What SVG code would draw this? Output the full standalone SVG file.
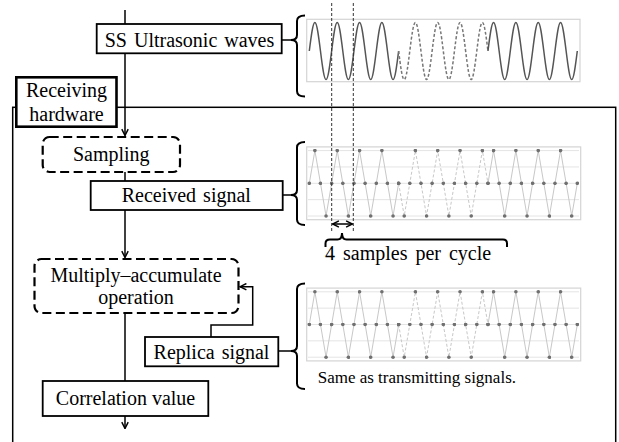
<svg xmlns="http://www.w3.org/2000/svg" xmlns:xlink="http://www.w3.org/1999/xlink" width="619" height="442" viewBox="0 0 619 442">
<style>
text{font-family:"Liberation Serif",serif;font-size:20px;fill:#000}
.box{fill:#fff;stroke:#000;stroke-width:1.8}
.dbox{fill:#fff;stroke:#000;stroke-width:2.2;stroke-dasharray:9 4.5}
.ln{fill:none;stroke:#000;stroke-width:1.5}
.br{fill:none;stroke:#000;stroke-width:2}
.vd{fill:none;stroke:#333;stroke-width:1;stroke-dasharray:3 2}
.pbox{fill:#fff;stroke:#d4d4d4;stroke-width:1.2}
.grid{stroke:#e4e4e4;stroke-width:1}
.samp{fill:none;stroke:#c8c8c8;stroke-width:1;marker-start:url(#dot);marker-mid:url(#dot);marker-end:url(#dot)}
.sampd{stroke-dasharray:3 2}
.wave{fill:none;stroke:#555;stroke-width:1.5}
.waved{fill:none;stroke:#777;stroke-width:1.5;stroke-dasharray:3 2}
</style>
<defs>
<marker id="arr" viewBox="0 0 10 10" refX="9" refY="5" markerWidth="8" markerHeight="8" orient="auto-start-reverse" markerUnits="userSpaceOnUse">
<path d="M1,1 L9,5 L1,9" fill="none" stroke="#000" stroke-width="1.8"/>
</marker>
<marker id="dot" viewBox="-2 -2 4 4" refX="0" refY="0" markerWidth="4" markerHeight="4" markerUnits="userSpaceOnUse">
<circle cx="0" cy="0" r="1.8" fill="#707070"/>
</marker>
<g id="sampled">
<rect class="pbox" x="306.7" y="-36.4" width="274" height="72.8"/>
<path class="grid" d="M308,-32.7H579M308,-16.35H579M308,0H579M308,16.35H579M308,32.7H579"/>
<polyline class="samp" points="309.3,0 314.88,-32.7 320.47,0 326.05,32.7 331.63,0 337.22,-32.7 342.8,0 348.38,32.7 353.97,0 359.55,-32.7 365.13,0 370.72,32.7 376.3,0 381.88,-32.7 387.47,0 393.05,32.7 398.63,0"/>
<polyline class="samp sampd" points="398.63,0 404.22,32.7 409.8,0 415.38,-32.7 420.97,0 426.55,32.7 432.13,0 437.72,-32.7 443.3,0 448.88,32.7 454.47,0 460.05,-32.7 465.63,0 471.22,32.7 476.8,0 482.38,-32.7 487.97,0"/>
<polyline class="samp" points="487.97,0 493.55,-32.7 499.13,0 504.72,32.7 510.3,0 515.88,-32.7 521.47,0 527.05,32.7 532.63,0 538.22,-32.7 543.8,0 549.38,32.7 554.97,0 560.55,-32.7 566.13,0 571.72,32.7 577.3,0"/>
</g>
</defs>

<rect x="0" y="0" width="619" height="442" fill="#fff"/>

<rect id="frame" x="12.7" y="107.3" width="603" height="345" fill="none" stroke="#000" stroke-width="1.5"/>

<g id="plot-transmitted">
<rect class="pbox" x="306.7" y="19.3" width="273.3" height="62.4"/>
<path class="wave" d="M309.3,51 c1.866,-14.97 3.584,-28.5 5.583,-28.5 c1.999,0 3.717,13.53 5.583,28.5 c1.866,14.97 3.584,28.5 5.583,28.5 c1.999,0 3.717,-13.53 5.583,-28.5 c1.866,-14.97 3.584,-28.5 5.583,-28.5 c1.999,0 3.717,13.53 5.583,28.5 c1.866,14.97 3.584,28.5 5.583,28.5 c1.999,0 3.717,-13.53 5.583,-28.5 c1.866,-14.97 3.584,-28.5 5.583,-28.5 c1.999,0 3.717,13.53 5.583,28.5 c1.866,14.97 3.584,28.5 5.583,28.5 c1.999,0 3.717,-13.53 5.583,-28.5 c1.866,-14.97 3.584,-28.5 5.583,-28.5 c1.999,0 3.717,13.53 5.583,28.5 c1.866,14.97 3.584,28.5 5.583,28.5 c1.999,0 3.717,-13.53 5.583,-28.5"/>
<path class="waved" d="M398.63,51 c1.866,14.97 3.584,28.5 5.583,28.5 c1.999,0 3.717,-13.53 5.583,-28.5 c1.866,-14.97 3.584,-28.5 5.583,-28.5 c1.999,0 3.717,13.53 5.583,28.5 c1.866,14.97 3.584,28.5 5.583,28.5 c1.999,0 3.717,-13.53 5.583,-28.5 c1.866,-14.97 3.584,-28.5 5.583,-28.5 c1.999,0 3.717,13.53 5.583,28.5 c1.866,14.97 3.584,28.5 5.583,28.5 c1.999,0 3.717,-13.53 5.583,-28.5 c1.866,-14.97 3.584,-28.5 5.583,-28.5 c1.999,0 3.717,13.53 5.583,28.5 c1.866,14.97 3.584,28.5 5.583,28.5 c1.999,0 3.717,-13.53 5.583,-28.5 c1.866,-14.97 3.584,-28.5 5.583,-28.5 c1.999,0 3.717,13.53 5.583,28.5"/>
<path class="wave" d="M487.97,51 c1.866,-14.97 3.584,-28.5 5.583,-28.5 c1.999,0 3.717,13.53 5.583,28.5 c1.866,14.97 3.584,28.5 5.583,28.5 c1.999,0 3.717,-13.53 5.583,-28.5 c1.866,-14.97 3.584,-28.5 5.583,-28.5 c1.999,0 3.717,13.53 5.583,28.5 c1.866,14.97 3.584,28.5 5.583,28.5 c1.999,0 3.717,-13.53 5.583,-28.5 c1.866,-14.97 3.584,-28.5 5.583,-28.5 c1.999,0 3.717,13.53 5.583,28.5 c1.866,14.97 3.584,28.5 5.583,28.5 c1.999,0 3.717,-13.53 5.583,-28.5 c1.866,-14.97 3.584,-28.5 5.583,-28.5 c1.999,0 3.717,13.53 5.583,28.5 c1.866,14.97 3.584,28.5 5.583,28.5 c1.999,0 3.717,-13.53 5.583,-28.5"/>
</g>
<g id="plot-received"><use xlink:href="#sampled" href="#sampled" transform="translate(0,183.3)"/></g>
<g id="plot-replica"><use xlink:href="#sampled" href="#sampled" transform="translate(0,324.5)"/></g>

<g id="connectors">
<path class="ln" d="M125,10V135.5" marker-end="url(#arr)"/>
<path class="ln" d="M125,172V181"/>
<path class="ln" d="M125,210V257.5" marker-end="url(#arr)"/>
<path class="ln" d="M125,313V381"/>
<path class="ln" d="M125,416V428.5" marker-end="url(#arr)"/>
<path class="ln" d="M211,337V325H252.7V286.7H240" marker-end="url(#arr)"/>
<path class="ln" d="M281.7,40H292M282.7,195H292M278.3,351H292"/>
<path class="br" d="M305,15.5Q297,15.5 297,21V35Q297,40 291,40Q297,40 297,45V91Q297,96.5 305,96.5"/>
<path class="br" d="M305,142Q297,142 297,147.5V190Q297,195 291,195Q297,195 297,200V219.5Q297,225 305,225"/>
<path class="br" d="M305,283.5Q297,283.5 297,289V346Q297,351 291,351Q297,351 297,356V383.5Q297,389 305,389"/>
<path class="vd" d="M331.7,3V233M353.3,3V233"/>
<path class="ln" d="M332.5,224H352.5" marker-start="url(#arr)" marker-end="url(#arr)"/>
<path class="br" d="M325.5,247V243.5Q325.5,239.5 330,239.5H337.5Q342,239.5 342,233Q342,239.5 346.5,239.5H503Q507,239.5 507,243.5V247"/>
</g>

<g id="nodes" font-family="Liberation Serif, serif">
<g id="ss-ultrasonic">
<rect class="box" x="96.7" y="24" width="185" height="29.3"/>
<text x="189.5" y="46.5" text-anchor="middle" word-spacing="2" font-family="Liberation Serif, serif">SS Ultrasonic waves</text>
</g>
<g id="receiving-hardware">
<rect x="16.3" y="77.3" width="100.2" height="49.4" fill="#fff" stroke="#000" stroke-width="2.6"/>
<text x="66.5" y="97.3" text-anchor="middle" font-family="Liberation Serif, serif">Receiving</text>
<text x="66.5" y="120.5" text-anchor="middle" font-family="Liberation Serif, serif">hardware</text>
</g>
<g id="sampling">
<rect class="dbox" x="42.7" y="137" width="137.3" height="35" rx="7"/>
<text x="111.3" y="160.5" text-anchor="middle" font-family="Liberation Serif, serif">Sampling</text>
</g>
<g id="received-signal">
<rect class="box" x="90.7" y="181" width="192" height="29"/>
<text x="186.3" y="202" text-anchor="middle" word-spacing="2" font-family="Liberation Serif, serif">Received signal</text>
</g>
<g id="multiply-accumulate">
<rect class="dbox" x="34.5" y="259" width="204" height="54" rx="7"/>
<text x="136" y="281.7" text-anchor="middle" font-family="Liberation Serif, serif">Multiply–accumulate</text>
<text x="136" y="304" text-anchor="middle" font-family="Liberation Serif, serif">operation</text>
</g>
<g id="replica-signal">
<rect class="box" x="145" y="337" width="133.3" height="29.3"/>
<text x="211.5" y="359.3" text-anchor="middle" word-spacing="2" font-family="Liberation Serif, serif">Replica signal</text>
</g>
<g id="correlation-value">
<rect class="box" x="42.7" y="381" width="165.6" height="35"/>
<text x="125.5" y="405" text-anchor="middle" font-family="Liberation Serif, serif">Correlation value</text>
</g>
</g>
<g id="labels">
<text x="325" y="260" word-spacing="3" font-family="Liberation Serif, serif">4 samples per cycle</text>
<text x="317.7" y="383.3" font-size="17" style="font-size:17px" font-family="Liberation Serif, serif">Same as transmitting signals.</text>
</g>
</svg>
